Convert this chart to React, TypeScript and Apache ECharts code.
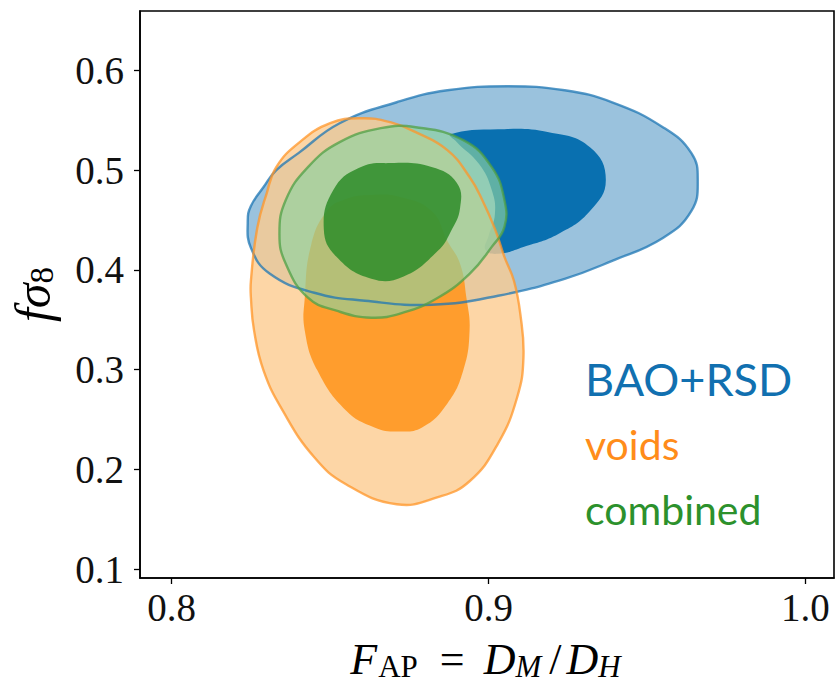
import React, { useEffect, useRef } from 'react';
import * as echarts from 'echarts';

// Axis ranges and ticks
const xTicks = [0.8, 0.9, 1.0];
const yTicks = [0.1, 0.2, 0.3, 0.4, 0.5, 0.6];
const xMin = 0.79;
const xMax = 1.009;
const yMin = 0.091;
const yMax = 0.6595;

// Contour boundaries [F_AP, f sigma_8]
const baoOuter = [
  [0.824, 0.449], [0.825, 0.464], [0.829, 0.483], [0.833, 0.5], [0.84, 0.517], [0.853, 0.547],
  [0.871, 0.568], [0.887, 0.58], [0.906, 0.584], [0.924, 0.58], [0.939, 0.568], [0.955, 0.543],
  [0.964, 0.517], [0.966, 0.49], [0.964, 0.459], [0.955, 0.432], [0.939, 0.409], [0.924, 0.391],
  [0.903, 0.374], [0.882, 0.365], [0.861, 0.369], [0.845, 0.377], [0.831, 0.396], [0.825, 0.422],
];
const baoInner = [
  [0.888, 0.536], [0.903, 0.541], [0.919, 0.538], [0.932, 0.523], [0.937, 0.49], [0.932, 0.459],
  [0.922, 0.436], [0.911, 0.423], [0.903, 0.416], [0.899, 0.42], [0.9, 0.434], [0.902, 0.456],
  [0.901, 0.48], [0.897, 0.506], [0.89, 0.528],
];
const voidsOuter = [
  [0.86, 0.552], [0.869, 0.548], [0.877, 0.538], [0.887, 0.52], [0.894, 0.493], [0.898, 0.47],
  [0.902, 0.441], [0.905, 0.413], [0.908, 0.389], [0.91, 0.356], [0.911, 0.312], [0.909, 0.272],
  [0.903, 0.226], [0.894, 0.188], [0.884, 0.172], [0.871, 0.165], [0.855, 0.185], [0.845, 0.212],
  [0.835, 0.259], [0.829, 0.299], [0.826, 0.339], [0.825, 0.372], [0.825, 0.389], [0.827, 0.442],
  [0.83, 0.477], [0.833, 0.503], [0.84, 0.527], [0.85, 0.547],
];
const voidsInner = [
  [0.855, 0.471], [0.863, 0.475], [0.872, 0.473], [0.882, 0.459], [0.887, 0.429], [0.891, 0.406],
  [0.893, 0.372], [0.894, 0.339], [0.892, 0.299], [0.887, 0.266], [0.879, 0.242], [0.871, 0.238],
  [0.864, 0.242], [0.855, 0.259], [0.846, 0.299], [0.842, 0.339], [0.842, 0.372], [0.844, 0.425],
  [0.849, 0.459],
];
const combinedOuter = [
  [0.877, 0.543], [0.892, 0.53], [0.901, 0.503], [0.905, 0.47], [0.905, 0.443], [0.901, 0.423],
  [0.894, 0.396], [0.884, 0.372], [0.873, 0.357], [0.863, 0.352], [0.852, 0.359], [0.843, 0.372],
  [0.836, 0.406], [0.834, 0.436], [0.836, 0.47], [0.843, 0.503], [0.853, 0.528], [0.866, 0.542],
];
const combinedInner = [
  [0.869, 0.507], [0.882, 0.503], [0.89, 0.487], [0.891, 0.462], [0.888, 0.438], [0.884, 0.419],
  [0.873, 0.393], [0.863, 0.391], [0.852, 0.413], [0.848, 0.441], [0.851, 0.48], [0.859, 0.502],
];

const legendLabels = ['BAO+RSD', 'voids', 'combined'];
const legendColors = ['#1170b0', '#ff8c1a', '#2c912c'];

const SMOOTH = 0.45;

function fillSeries(name: string, pts: number[][], fill: string) {
  return {
    type: 'custom',
    name,
    data: pts,
    silent: true,
    clip: true,
    renderItem: (params: any, api: any) => {
      if (params.dataIndex !== 0) return null;
      return {
        type: 'polygon',
        shape: { points: pts.map((p) => api.coord(p)), smooth: SMOOTH },
        style: { fill, stroke: 'none' },
      };
    },
  };
}

function lineSeries(name: string, pts: number[][], stroke: string) {
  return {
    type: 'custom',
    name,
    data: pts,
    silent: true,
    clip: true,
    renderItem: (params: any, api: any) => {
      if (params.dataIndex !== 0) return null;
      return {
        type: 'polygon',
        shape: { points: pts.map((p) => api.coord(p)), smooth: SMOOTH },
        style: { fill: 'none', stroke, lineWidth: 2.4 },
      };
    },
  };
}

const serif = 'Liberation Serif';

export default function App() {
  const ref = useRef<HTMLDivElement>(null);
  useEffect(() => {
    if (!ref.current) return;
    const chart = echarts.init(ref.current, undefined, { renderer: 'svg' });
    chart.setOption({
      animation: false,
      backgroundColor: '#fff',
      grid: {
        left: 140,
        right: 2,
        top: 11,
        bottom: 112,
        show: true,
        borderColor: '#000',
        borderWidth: 1.6,
        backgroundColor: 'transparent',
        outerBoundsMode: 'none',
      },
      xAxis: {
        type: 'value',
        min: xMin,
        max: xMax,
        name: '{i|F}{s|AP}{r| = }{i|D}{si|M}{q|/}{i|D}{si|H}',
        nameLocation: 'middle',
        nameGap: 58,
        nameTextStyle: {
          color: '#000',
          fontFamily: serif,
          fontSize: 44,
          rich: {
            i: { fontFamily: serif, fontStyle: 'italic', fontSize: 44, color: '#000' },
            r: { fontFamily: serif, fontSize: 44, color: '#000', padding: [0, 8, 0, 8] },
            q: { fontFamily: serif, fontSize: 44, color: '#000', padding: [0, 5, 0, 5] },
            s: { fontFamily: serif, fontSize: 31, color: '#000', padding: [15, 3, 0, 1] },
            si: { fontFamily: serif, fontStyle: 'italic', fontSize: 31, color: '#000', padding: [15, 3, 0, 0] },
          },
        },
        axisLine: { show: true, onZero: false, lineStyle: { color: '#000', width: 1.6 } },
        axisTick: { show: true, inside: false, length: 6, customValues: xTicks, lineStyle: { color: '#000', width: 1.3 } },
        axisLabel: {
          customValues: xTicks,
          formatter: (v: number) => v.toFixed(1),
          fontFamily: serif,
          fontSize: 39,
          color: '#111',
          margin: 10,
        },
        splitLine: { show: false },
      },
      yAxis: {
        type: 'value',
        min: yMin,
        max: yMax,
        name: '{i|fσ}{s|8}',
        nameLocation: 'middle',
        nameRotate: 90,
        nameGap: 82,
        nameTextStyle: {
          color: '#000',
          fontFamily: serif,
          fontSize: 50,
          rich: {
            i: { fontFamily: serif, fontStyle: 'italic', fontSize: 50, color: '#000' },
            s: { fontFamily: serif, fontSize: 33, color: '#000', padding: [17, 0, 0, 0] },
          },
        },
        axisLine: { show: true, onZero: false, lineStyle: { color: '#000', width: 1.6 } },
        axisTick: { show: true, inside: false, length: 6, customValues: yTicks, lineStyle: { color: '#000', width: 1.3 } },
        axisLabel: {
          customValues: yTicks,
          formatter: (v: number) => v.toFixed(1),
          fontFamily: serif,
          fontSize: 39,
          color: '#111',
          margin: 16,
        },
        splitLine: { show: false },
      },
      series: [
        fillSeries('BAO+RSD 95%', baoOuter, 'rgba(31,119,180,0.45)'),
        fillSeries('BAO+RSD 68%', baoInner, 'rgb(9,112,176)'),
        fillSeries('voids 95%', voidsOuter, 'rgba(252,204,144,0.8)'),
        fillSeries('voids 68%', voidsInner, 'rgba(255,152,35,0.92)'),
        fillSeries('combined 95%', combinedOuter, 'rgba(141,210,160,0.65)'),
        fillSeries('combined 68%', combinedInner, 'rgba(45,140,40,0.85)'),
        lineSeries('BAO+RSD edge', baoOuter, 'rgba(31,119,180,0.75)'),
        lineSeries('voids edge', voidsOuter, 'rgba(255,150,40,0.75)'),
        lineSeries('combined edge', combinedOuter, 'rgba(80,160,70,0.75)'),
      ],
      graphic: legendLabels.map((t, i) => ({
        type: 'text',
        x: 585,
        y: [379, 444, 509][i],
        style: {
          text: t,
          fill: legendColors[i],
          fontFamily: 'Lato',
          fontSize: [45, 41, 41][i],
          verticalAlign: 'middle',
        },
      })),
    } as any);
    return () => chart.dispose();
  }, []);
  return (
    <div
      ref={ref}
      style={{ position: 'absolute', left: 0, top: 0, width: 836, height: 690 }}
    />
  );
}
